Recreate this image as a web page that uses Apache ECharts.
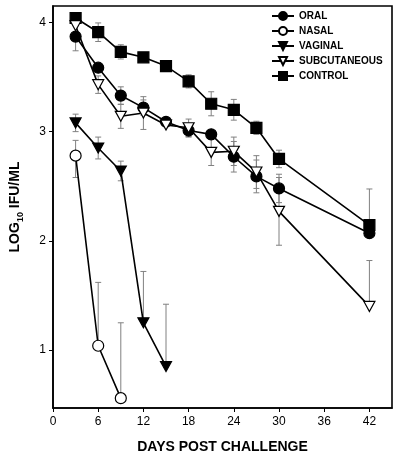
<!DOCTYPE html>
<html>
<head>
<meta charset="utf-8">
<script src="https://cdn.jsdelivr.net/npm/echarts@6/dist/echarts.min.js"></script>
<style>html,body{margin:0;padding:0;background:#fff}#c{width:400px;height:464px}</style>
</head>
<body>
<div id="c"></div>
<script>
// ---- data ----
var days = [3, 6, 9, 12, 15, 18, 21, 24, 27, 30, 42];
var oral = [3.87, 3.585, 3.33, 3.22, 3.09, 3.01, 2.975, 2.77, 2.59, 2.48, 2.07];
var oralErrUp = [0.13, 0.04, 0.08, 0.07, 0.05, 0.06, 0.05, 0.14, 0.15, 0.13, 0.1];
var oralErrDown = [0.13, 0.04, 0.08, 0.07, 0.05, 0.06, 0.05, 0.14, 0.15, 0.13, 0.04];
var control = [4.04, 3.91, 3.73, 3.68, 3.60, 3.46, 3.255, 3.20, 3.035, 2.75, 2.145];
var controlErrUp = [0.03, 0.085, 0.065, 0.03, 0.03, 0.06, 0.11, 0.095, 0.06, 0.08, 0.33];
var controlErrDown = [0.03, 0.085, 0.065, 0.03, 0.03, 0.06, 0.11, 0.095, 0.06, 0.08, 0.04];
var subq = [3.97, 3.43, 3.14, 3.17, 3.06, 3.035, 2.81, 2.82, 2.63, 2.27, 1.40];
var subqErrUp = [0.03, 0.08, 0.11, 0.15, 0.04, 0.08, 0.12, 0.13, 0.15, 0.31, 0.42];
var subqErrDown = [0.03, 0.08, 0.11, 0.15, 0.04, 0.08, 0.12, 0.13, 0.15, 0.31, 0];
var vagDays = [3, 6, 9, 12, 15];
var vaginal = [3.08, 2.85, 2.64, 1.25, 0.85];
var vagErrUp = [0.08, 0.10, 0.09, 0.47, 0.57];
var vagErrDown = [0.08, 0.10, 0.09, 0, 0];
var nasalDays = [3, 6, 9];
var nasal = [2.78, 1.04, 0.56];
var nasalErrUp = [0.14, 0.58, 0.69];
var nasalErrDown = [0.2, 0, 0];
var xTicks = [0, 6, 12, 18, 24, 30, 36, 42];
var yTicks = [1, 2, 3, 4];
var names = ['ORAL', 'NASAL', 'VAGINAL', 'SUBCUTANEOUS', 'CONTROL'];

// ---- helpers ----
function pts(xs, ys) { return xs.map(function (x, i) { return [x, ys[i]]; }); }
function errs(xs, ys, up, down) {
  return xs.map(function (x, i) { return [x, ys[i], up[i], down[i]]; });
}
var allErr = [].concat(
  errs(days, oral, oralErrUp, oralErrDown),
  errs(days, control, controlErrUp, controlErrDown),
  errs(days, subq, subqErrUp, subqErrDown),
  errs(vagDays, vaginal, vagErrUp, vagErrDown),
  errs(nasalDays, nasal, nasalErrUp, nasalErrDown)
);
var FONT = '"Liberation Sans", Arial, sans-serif';
var downTri = 'path://M0,0 L10,0 L5,9 Z';

function lineSeries(name, data, symbol, size, fill) {
  return {
    name: name, type: 'line', data: data, symbol: symbol, symbolSize: size,
    z: 3,
    lineStyle: { color: '#000', width: 1.6 },
    itemStyle: { color: fill, borderColor: '#000', borderWidth: 1.2 },
    emphasis: { disabled: true }, animation: false
  };
}

var chart = echarts.init(document.getElementById('c'), null, { renderer: 'canvas' });
chart.setOption({
  animation: false,
  textStyle: { fontFamily: FONT },
  grid: { left: 53, right: 8, top: 6, bottom: 56, show: true, borderColor: '#000', borderWidth: 1.6, backgroundColor: 'transparent' },
  legend: {
    data: names, orient: 'vertical', left: 266, top: 6,
    itemWidth: 22, itemHeight: 10, itemGap: 5,
    textStyle: { fontFamily: FONT, fontWeight: 'bold', fontSize: 10, color: '#000' },
    selectedMode: false
  },
  xAxis: {
    type: 'value', min: 0, max: 45,
    name: 'DAYS POST CHALLENGE', nameLocation: 'middle', nameGap: 32,
    nameTextStyle: { fontFamily: FONT, fontWeight: 'bold', fontSize: 14, color: '#000' },
    axisLine: { show: true, lineStyle: { color: '#000', width: 1.6 } },
    axisTick: { show: true, customValues: xTicks, length: 4, lineStyle: { color: '#000' } },
    axisLabel: { customValues: xTicks, fontSize: 12, color: '#000', margin: 8, fontFamily: FONT },
    splitLine: { show: false }
  },
  yAxis: {
    type: 'value', min: 0.47, max: 4.15,
    name: '{a|LOG}{b|10}{a| IFU/ML}', nameLocation: 'middle', nameGap: 31, nameRotate: 90,
    nameTextStyle: {
      rich: {
        a: { fontFamily: FONT, fontWeight: 'bold', fontSize: 14, color: '#000', lineHeight: 18, verticalAlign: 'bottom' },
        b: { fontFamily: FONT, fontWeight: 'bold', fontSize: 9, color: '#000', lineHeight: 18, verticalAlign: 'bottom', padding: [0, 0, -3, 0] }
      }
    },
    axisLine: { show: true, lineStyle: { color: '#000', width: 1.6 } },
    axisTick: { show: true, customValues: yTicks, length: 4, lineStyle: { color: '#000' } },
    axisLabel: { customValues: yTicks, fontSize: 12, color: '#000', margin: 7, fontFamily: FONT },
    splitLine: { show: false }
  },
  series: [
    {
      type: 'custom', name: 'err', data: allErr, z: 1, silent: true,
      renderItem: function (params, api) {
        var x = api.value(0), y = api.value(1), up = api.value(2), dn = api.value(3);
        var top = api.coord([x, y + up]);
        var bot = api.coord([x, y - dn]);
        var c = 3;
        var st = { stroke: '#808080', lineWidth: 1 };
        var children = [
          { type: 'line', shape: { x1: top[0], y1: top[1], x2: bot[0], y2: bot[1] }, style: st }
        ];
        if (up > 0.05) children.push({ type: 'line', shape: { x1: top[0] - c, y1: top[1], x2: top[0] + c, y2: top[1] }, style: st });
        if (dn > 0.05) children.push({ type: 'line', shape: { x1: bot[0] - c, y1: bot[1], x2: bot[0] + c, y2: bot[1] }, style: st });
        return { type: 'group', children: children };
      }
    },
    lineSeries('CONTROL', pts(days, control), 'rect', 11, '#000'),
    lineSeries('ORAL', pts(days, oral), 'circle', 11, '#000'),
    lineSeries('SUBCUTANEOUS', pts(days, subq), downTri, [11, 10], '#fff'),
    lineSeries('VAGINAL', pts(vagDays, vaginal), downTri, [11, 10], '#000'),
    lineSeries('NASAL', pts(nasalDays, nasal), 'circle', 11, '#fff')
  ]
});
</script>
</body>
</html>
